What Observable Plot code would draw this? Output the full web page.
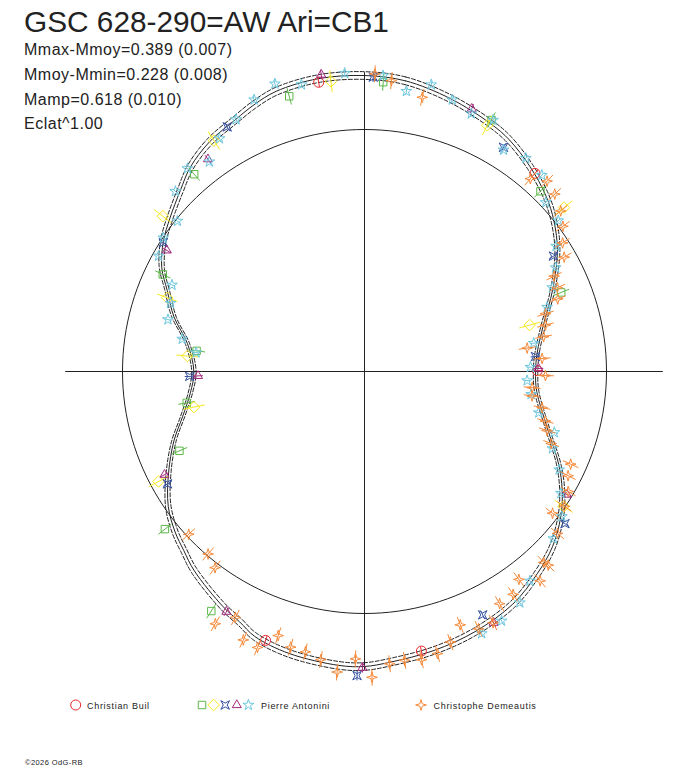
<!DOCTYPE html>
<html>
<head>
<meta charset="utf-8">
<script src="https://cdn.jsdelivr.net/npm/d3@7"></script>
<script src="https://cdn.jsdelivr.net/npm/@observablehq/plot@0.6"></script>
<style>
  body { margin: 0; background: #fff; font-family: "Liberation Sans", Arial, sans-serif; color: #222; }
  #wrap { position: relative; width: 688px; height: 768px; overflow: hidden; }
  #chart { position: absolute; left: 0; top: 0; }
  .title { position: absolute; left: 24px; top: 7px; font-size: 29.8px; line-height: 29px; white-space: nowrap; }
  .stats { position: absolute; left: 24px; top: 38px; font-size: 16px; line-height: 24.8px; letter-spacing: 0.5px; white-space: nowrap; }
  #legend { position: absolute; left: 0; top: 690px; }
</style>
</head>
<body>
<div id="wrap">
  <div id="chart"></div>
  <div class="title">GSC 628-290=AW Ari=CB1</div>
  <div class="stats">
    <div>Mmax-Mmoy=0.389 (0.007)</div>
    <div>Mmoy-Mmin=0.228 (0.008)</div>
    <div>Mamp=0.618 (0.010)</div>
    <div>Eclat^1.00</div>
  </div>
  <div id="legend"></div>
</div>
<script>
// Polar light curve: angle = phase (degrees, clockwise from top), radius = relative flux (1 = mean)

// Fitted curve
const fitAngle = [0, 8, 17.5, 27, 32, 39, 46, 51.5, 58, 66.5, 75, 84, 90, 96.5, 107, 115.5, 121, 126.5, 133, 139.5,
  147.5, 157, 166, 175, 180, 185, 195, 202.5, 206.5, 211, 220.5, 225.3, 229.7, 235.5, 242.6, 250, 256, 263, 270, 279,
  286, 292.3, 297.1, 302.9, 308.3, 314.5, 319.5, 326, 333, 337.5, 342.5, 351];
const fitFlux = [1.223, 1.213, 1.182, 1.149, 1.129, 1.088, 1.043, 1.000, 0.940, 0.848, 0.767, 0.717, 0.707, 0.716, 0.789, 0.889, 0.953, 1.009, 1.062, 1.099,
  1.140, 1.168, 1.188, 1.206, 1.219, 1.219, 1.206, 1.185, 1.156, 1.134, 1.083, 1.051, 1.026, 0.984, 0.912, 0.838, 0.775, 0.725, 0.705, 0.741,
  0.819, 0.881, 0.941, 0.990, 1.024, 1.067, 1.109, 1.145, 1.170, 1.193, 1.214, 1.225];
const fitRelErr = 0.013;

// Christian Buil
const builAngle = [351, 40.7, 89.7, 168.5, 200.2];
const builFlux = [1.210, 1.080, 0.714, 1.179, 1.184];

// Pierre Antonini (5 sessions)
const antGreenAngle = [344.7, 3.7, 26.8, 44.3, 68.1, 277, 260, 246.8, 231.7, 212.6, 319.2, 295.7];
const antGreenFlux = [1.179, 1.198, 1.164, 1.041, 0.876, 0.699, 0.746, 0.832, 1.051, 1.175, 1.077, 0.925];

const antYellowAngle = [353.4, 26.5, 326.9, 50.6, 74.3, 124.1, 290.5, 275, 258.2, 241.9, 307.6];
const antYellowFlux = [1.207, 1.137, 1.139, 1.067, 0.709, 0.994, 0.870, 0.735, 0.720, 0.965, 1.052];

const antBlueAngle = [1.7, 330.7, 31.8, 58.6, 85, 127.2, 154.1, 181.4, 268.4, 240.3, 302.6];
const antBlueFlux = [1.217, 1.159, 1.090, 0.915, 0.709, 1.040, 1.118, 1.257, 0.723, 0.937, 0.987];

const antPurpleAngle = [351.7, 22.2, 323.6, 121.3, 152.8, 180.4, 209.9, 242.7, 268.5, 301.5, 89];
const antPurpleFlux = [1.240, 1.173, 1.090, 0.979, 1.167, 1.224, 1.145, 0.930, 0.688, 0.958, 0.719];

const antCyanAngle = [342.7, 347.6, 356.2, 337.9, 333, 328.1, 323.5, 318.9,
  3.6, 8.5, 13.1, 17.9, 22.5, 27.1, 32.1, 37.1, 42.1,
  47, 52.1, 56.8, 61.5, 65.9, 70.6, 80.5, 88.5,
  93.2, 97.8, 103.3, 107.8, 112.3, 116.8, 121.8, 126.3, 131.5,
  141.7, 146.1, 151.2, 155.9,
  294.2, 289.4, 284.8, 280.1, 276.4,
  313.6, 308.8, 303.6, 299.3];
const antCyanFlux = [1.245, 1.214, 1.235, 1.212, 1.169, 1.134, 1.078, 1.113,
  1.225, 1.171, 1.217, 1.180, 1.153, 1.167, 1.081, 1.105, 1.093,
  1.024, 1.015, 0.946, 0.899, 0.850, 0.800, 0.709, 0.686,
  0.673, 0.695, 0.740, 0.824, 0.839, 0.901, 0.955, 1.012, 1.042,
  1.103, 1.151, 1.176, 1.186,
  0.872, 0.850, 0.840, 0.765, 0.700,
  1.079, 0.992, 0.998, 0.976];

// Christophe Demeautis
const demAngle = [2.0, 5.3, 11.9, 40.7, 43.8, 47, 50.7, 53.8, 57, 60.2,
  63.3, 66.5, 69.4, 72.3, 75.6, 79, 81.8, 85.8, 91.3, 95.5,
  98.3, 101.5, 105.3, 107.9, 111.1, 114.2, 117.1, 120.5, 124, 127,
  130, 136.5, 136.8, 140, 143.4, 146.3, 149.8, 152.9, 156.1, 159.3,
  162.4, 165.5, 168.8, 172.1, 175.1, 178.6, 181.8, 185.2, 188.6, 191.9,
  195, 198.1, 201.2, 204.3, 210.6, 207.7, 217.3, 220.6, 227.2];
const demFlux = [1.231, 1.207, 1.158, 1.051, 1.090, 1.075, 1.048, 1.016, 0.976, 0.951,
  0.877, 0.869, 0.853, 0.785, 0.772, 0.754, 0.679, 0.736, 0.748, 0.696,
  0.700, 0.749, 0.775, 0.793, 0.827, 0.934, 0.945, 0.977, 0.996, 0.973,
  1.041, 1.103, 1.082, 1.129, 1.070, 1.107, 1.110, 1.166, 1.163, 1.119,
  1.173, 1.204, 1.214, 1.205, 1.212, 1.264, 1.188, 1.247, 1.204, 1.184,
  1.179, 1.148, 1.223, 1.217, 1.211, 1.148, 1.019, 0.993, 0.990];

const meanFlux = 1;
const axisReach = 1.235;

// custom markers
const sparkle = {
  draw(ctx, size) {
    const s = Math.sqrt(size / Math.PI), w = s * 0.22;
    ctx.moveTo(0, -s); ctx.lineTo(w, -w); ctx.lineTo(s, 0); ctx.lineTo(w, w);
    ctx.lineTo(0, s); ctx.lineTo(-w, w); ctx.lineTo(-s, 0); ctx.lineTo(-w, -w);
    ctx.closePath();
  }
};
const quad = {
  draw(ctx, size) {
    const s = Math.sqrt(size / Math.PI), m = s * 0.45;
    ctx.moveTo(-s, -s); ctx.lineTo(0, -m); ctx.lineTo(s, -s); ctx.lineTo(m, 0);
    ctx.lineTo(s, s); ctx.lineTo(0, m); ctx.lineTo(-s, s); ctx.lineTo(-m, 0);
    ctx.closePath();
  }
};

const series = [
  {angle: builAngle, flux: builFlux, symbol: "circle", r: 5, color: "#e8262e", err: 0.02},
  {angle: antGreenAngle, flux: antGreenFlux, symbol: "square", r: 4.2, color: "#5cb848", err: 0.035},
  {angle: antYellowAngle, flux: antYellowFlux, symbol: "diamond2", r: 5.2, color: "#f7e81c", err: 0.045},
  {angle: antBlueAngle, flux: antBlueFlux, symbol: quad, r: 4.3, color: "#34509f", err: 0.02},
  {angle: antPurpleAngle, flux: antPurpleFlux, symbol: "triangle2", r: 4.3, color: "#a52a7e", err: 0.02},
  {angle: antCyanAngle, flux: antCyanFlux, symbol: "star", r: 3.4, color: "#6cc6de", err: 0.015},
  {angle: demAngle, flux: demFlux, symbol: sparkle, r: 5.4, color: "#f58a3a", err: 0.035}
];

const RAD = Math.PI / 180;
const px = (a, f) => f * Math.sin(a * RAD);
const py = (a, f) => f * Math.cos(a * RAD);

function buildTable(s) {
  return s.angle.map((a, i) => {
    const f = s.flux[i];
    return {
      x: px(a, f), y: py(a, f),
      x1: px(a, f - s.err), y1: py(a, f - s.err),
      x2: px(a, f + s.err), y2: py(a, f + s.err)
    };
  });
}

const fitTable = fitAngle.map((a, i) => ({
  x: px(a, fitFlux[i]), y: py(a, fitFlux[i]),
  xi: px(a, fitFlux[i] * (1 - fitRelErr)), yi: py(a, fitFlux[i] * (1 - fitRelErr)),
  xo: px(a, fitFlux[i] * (1 + fitRelErr)), yo: py(a, fitFlux[i] * (1 + fitRelErr))
}));

// reference circle at mean flux
const circleTable = d3.range(0, 360, 2).map(a => ({x: px(a, meanFlux), y: py(a, meanFlux)}));

const W = 688, H = 768, cx = 364, cy = 371, unit = 242;

const marks = [
  Plot.ruleY([0], {x1: -axisReach, x2: axisReach, stroke: "#222", strokeWidth: 1}),
  Plot.ruleX([0], {y1: -axisReach, y2: axisReach, stroke: "#222", strokeWidth: 1}),
  Plot.line(circleTable, {x: "x", y: "y", curve: "linear-closed", stroke: "#222", strokeWidth: 1}),
  Plot.line(fitTable, {x: "xi", y: "yi", curve: "catmull-rom-closed", stroke: "#222", strokeWidth: 1, strokeDasharray: "4,2"}),
  Plot.line(fitTable, {x: "xo", y: "yo", curve: "catmull-rom-closed", stroke: "#222", strokeWidth: 1, strokeDasharray: "4,2"}),
  Plot.line(fitTable, {x: "x", y: "y", curve: "catmull-rom-closed", stroke: "#222", strokeWidth: 1})
];

series.forEach(s => {
  const table = buildTable(s);
  marks.push(Plot.link(table, {x1: "x1", y1: "y1", x2: "x2", y2: "y2", stroke: s.color, strokeWidth: 1}));
  marks.push(Plot.dot(table, {x: "x", y: "y", symbol: s.symbol, r: s.r, stroke: s.color, fill: "none", strokeWidth: 1}));
});

const plot = Plot.plot({
  width: W,
  height: H,
  margin: 0,
  x: {domain: [-cx / unit, (W - cx) / unit], range: [0, W], axis: null},
  y: {domain: [-(H - cy) / unit, cy / unit], range: [H, 0], axis: null},
  style: {background: "transparent"},
  marks
});
document.getElementById("chart").appendChild(plot);

// legend + credit line
const legendEntries = [
  {symbols: [series[0]], x: 75.7, labelX: 87, label: "Christian Buil"},
  {symbols: series.slice(1, 6), x: 202, labelX: 261, label: "Pierre Antonini"},
  {symbols: [series[6]], x: 421, labelX: 433.5, label: "Christophe Demeautis"}
];
const leg = d3.select("#legend").append("svg").attr("width", W).attr("height", 78);
legendEntries.forEach(e => {
  e.symbols.forEach((s, j) => {
    const sym = typeof s.symbol === "string"
      ? {circle: d3.symbolCircle, square: d3.symbolSquare, diamond2: d3.symbolDiamond2, triangle2: d3.symbolTriangle2, star: d3.symbolStar}[s.symbol]
      : s.symbol;
    leg.append("path")
      .attr("d", d3.symbol(sym, s.r * s.r * Math.PI)())
      .attr("transform", `translate(${e.x + j * 11.6},15)`)
      .attr("fill", "none").attr("stroke", s.color).attr("stroke-width", 1);
  });
  leg.append("text").attr("x", e.labelX).attr("y", 18.5)
    .attr("font-size", 9).attr("letter-spacing", 0.7).attr("fill", "#222")
    .attr("font-family", "Liberation Sans, Arial, sans-serif")
    .text(e.label);
});
leg.append("text").attr("x", 25).attr("y", 75).attr("font-size", 7.5).attr("letter-spacing", 0.4)
  .attr("fill", "#222").attr("font-family", "Liberation Sans, Arial, sans-serif")
  .text("©2026 OdG-RB");
</script>
</body>
</html>
